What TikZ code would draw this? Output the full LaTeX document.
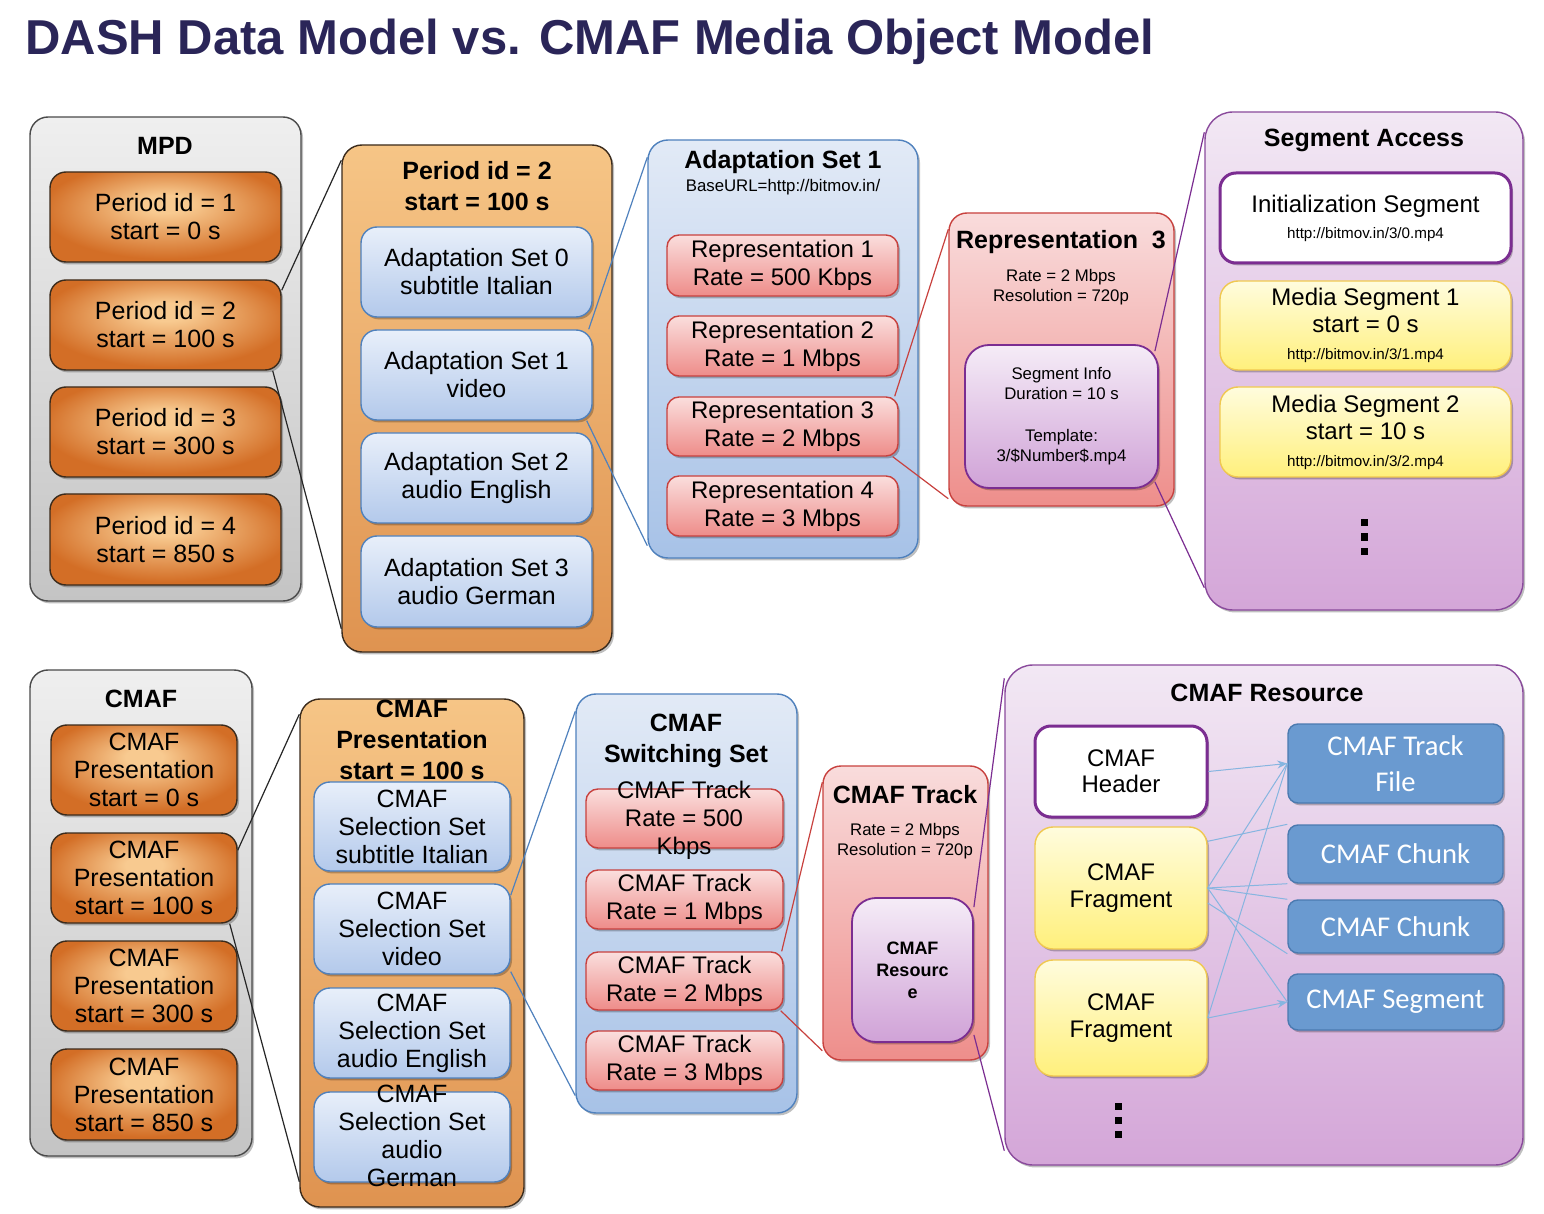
\documentclass[tikz,border=0pt]{standalone}
\usepackage{fontspec}
\setmainfont{Liberation Sans}
\newfontfamily\carlito{Carlito}
\usetikzlibrary{shadows,arrows.meta}

\definecolor{titlenavy}{HTML}{2A2558}
\definecolor{grayT}{HTML}{EFEFEF}
\definecolor{grayB}{HTML}{C4C4C4}
\definecolor{grayL}{HTML}{4A4A4A}
\definecolor{orIn}{HTML}{F8CA90}
\definecolor{orOut}{HTML}{D36E26}
\definecolor{orL}{HTML}{3B2B1C}
\definecolor{obT}{HTML}{F6C586}
\definecolor{obB}{HTML}{DF9350}
\definecolor{blT}{HTML}{E8EFFA}
\definecolor{blB}{HTML}{B3C9EB}
\definecolor{blL}{HTML}{4F81BD}
\definecolor{bbT}{HTML}{E2EAF6}
\definecolor{bbB}{HTML}{A7C2E7}
\definecolor{rdT}{HTML}{FADEDD}
\definecolor{rdB}{HTML}{EE8C89}
\definecolor{rdL}{HTML}{C8413E}
\definecolor{rbT}{HTML}{F9DCDC}
\definecolor{rbB}{HTML}{EE8E8B}
\definecolor{puT}{HTML}{F5ECF7}
\definecolor{puB}{HTML}{D0A2D7}
\definecolor{puL}{HTML}{7B2D91}
\definecolor{saT}{HTML}{F2E8F4}
\definecolor{saB}{HTML}{D4A6D8}
\definecolor{saL}{HTML}{8A4A9C}
\definecolor{yeT}{HTML}{FFFCDD}
\definecolor{yeB}{HTML}{FFF07C}
\definecolor{yeL}{HTML}{F0C850}
\definecolor{sbF}{HTML}{6A9AD0}
\definecolor{sbL}{HTML}{4B7AB0}
\definecolor{arB}{HTML}{86B5E0}

\pgfdeclareradialshading{pershade}{\pgfpoint{0bp}{8bp}}{color(0bp)=(orIn); color(5bp)=(orIn); color(27bp)=(orOut); color(50bp)=(orOut)}

\tikzset{
 shd/.style={drop shadow={shadow xshift=1pt, shadow yshift=-1.2pt, opacity=0.25, fill=black}},
 bxbase/.style={draw, inner sep=0pt, align=center, line width=0.7pt, shd},
 graybox/.style={bxbase, draw=grayL, rounded corners=9pt, top color=grayT, bottom color=grayB},
 orbox/.style={bxbase, draw=orL, rounded corners=8pt, shading=pershade, font=\fontsize{12.5}{14}\selectfont},
 obig/.style={bxbase, draw=orL, rounded corners=10pt, top color=obT, bottom color=obB},
 blbox/.style={bxbase, draw=blL, rounded corners=8pt, top color=blT, bottom color=blB, font=\fontsize{12.5}{14}\selectfont},
 bbig/.style={bxbase, draw=blL, rounded corners=10pt, top color=bbT, bottom color=bbB},
 rdbox/.style={bxbase, draw=rdL, rounded corners=6pt, top color=rdT, bottom color=rdB, font=\fontsize{12}{14}\selectfont},
 rbig/.style={bxbase, draw=rdL, rounded corners=9pt, top color=rbT, bottom color=rbB},
 pubox/.style={bxbase, draw=puL, line width=0.9pt, rounded corners=12pt, top color=puT, bottom color=puB},
 sabig/.style={bxbase, draw=saL, rounded corners=14pt, top color=saT, bottom color=saB},
 initbox/.style={bxbase, draw=puL, line width=1.5pt, fill=white, rounded corners=8pt, font=\fontsize{12}{13}\selectfont},
 yebox/.style={bxbase, draw=yeL, rounded corners=9pt, top color=yeT, bottom color=yeB, font=\fontsize{12}{13.5}\selectfont},
 sbbox/.style={bxbase, draw=sbL, fill=sbF, rounded corners=5pt, text=white, font=\carlito\fontsize{14.3}{18}\selectfont},
 ttl/.style={inner sep=0pt, align=center, font=\fontsize{12.5}{15.5}\selectfont\bfseries},
 sml/.style={inner sep=0pt, align=center, font=\fontsize{8.4}{10}\selectfont},
 smlbold/.style={inner sep=0pt, align=center, font=\fontsize{9}{11}\selectfont\bfseries},
 bodytxt/.style={inner sep=0pt, align=center, font=\fontsize{12.5}{14}\selectfont},
 dotsq/.style={fill=black, minimum size=3.5pt, inner sep=0pt},
 cblack/.style={draw=black!85, line width=0.6pt},
 cblue/.style={draw=blL, line width=0.6pt},
 cred/.style={draw=rdL, line width=0.6pt},
 cpurple/.style={draw=puL, line width=0.6pt},
 carr/.style={draw=arB, line width=0.5pt},
}

\newcommand\mkbox[7]{%
  \pgfmathsetmacro\bw{(#5-#3)*0.5}%
  \pgfmathsetmacro\bh{(#6-#4)*0.5}%
  \node[#1, minimum width=\bw pt, minimum height=\bh pt] (#2) at ({(#3+#5)/2},{(#4+#6)/2}) {#7};}
\newcommand\urlf{\fontsize{7.6}{9}\selectfont}

\begin{document}
\begin{tikzpicture}[x=0.5pt,y=-0.5pt]
\fill[white] (0,0) rectangle (1544,1214);
\useasboundingbox (0,0) rectangle (1544,1214);

\node[anchor=base west, inner sep=0pt, text=titlenavy, font=\fontsize{24.5}{28}\selectfont\bfseries] (title) at (25,55) {DASH Data Model vs. CMAF Media Object Model};

% ---------------- DASH ----------------
\mkbox{graybox}{mpd}{30}{117}{301}{601}{}
\node[ttl] (mpdT) at (165,146) {MPD};
\mkbox{orbox}{P1}{50}{172}{281}{262}{Period id = 1\\start = 0 s}
\mkbox{orbox}{P2}{50}{280}{281}{370}{Period id = 2\\start = 100 s}
\mkbox{orbox}{P3}{50}{387}{281}{477}{Period id = 3\\start = 300 s}
\mkbox{orbox}{P4}{50}{494}{281}{585}{Period id = 4\\start = 850 s}

\mkbox{obig}{PB}{342}{145}{612}{652}{}
\node[ttl] (PBT) at (477,186.5) {Period id = 2\\start = 100 s};
\mkbox{blbox}{AS0}{361}{227}{592}{317}{Adaptation Set 0\\subtitle Italian}
\mkbox{blbox}{AS1}{361}{330}{592}{420}{Adaptation Set 1\\video}
\mkbox{blbox}{AS2}{361}{433}{592}{523}{Adaptation Set 2\\audio English}
\mkbox{blbox}{AS3}{361}{536}{592}{627}{Adaptation Set 3\\audio German}

\mkbox{bbig}{ASB}{648}{140}{918}{558}{}
\node[ttl] (ASBT) at (783,162) {Adaptation Set 1};
\node[sml] (ASBU) at (783,187) {BaseURL=http://bitmov.in/};
\mkbox{rdbox}{R1}{667}{235}{898}{296}{Representation 1\\Rate = 500 Kbps}
\mkbox{rdbox}{R2}{667}{316}{898}{376}{Representation 2\\Rate = 1 Mbps}
\mkbox{rdbox}{R3}{667}{397}{898}{456}{Representation 3\\Rate = 2 Mbps}
\mkbox{rdbox}{R4}{667}{476}{898}{536}{Representation 4\\Rate = 3 Mbps}

\mkbox{rbig}{RB}{949}{213}{1174}{506}{}
\node[ttl] (RBT) at (1061,242) {Representation\ \ 3};
\node[sml] (RBI) at (1061,287) {Rate = 2 Mbps\\Resolution = 720p};
\mkbox{pubox,sml}{SI}{965}{345}{1158}{488}{Segment Info\\Duration = 10 s\\[11pt]Template:\\3/\$Number\$.mp4}

\mkbox{sabig}{SA}{1205}{112}{1523}{610}{}
\node[ttl] (SAT) at (1364,140) {Segment Access};
\mkbox{initbox}{IS}{1220}{173}{1511}{263}{Initialization Segment\\{\urlf http://bitmov.in/3/0.mp4}}
\mkbox{yebox}{MS1}{1220}{281}{1511}{370}{Media Segment 1\\start = 0 s\\{\urlf http://bitmov.in/3/1.mp4}}
\mkbox{yebox}{MS2}{1220}{387}{1511}{477}{Media Segment 2\\start = 10 s\\{\urlf http://bitmov.in/3/2.mp4}}
\node[dotsq] (sd1) at (1364,523) {};
\node[dotsq] (sd2) at (1364,537) {};
\node[dotsq] (sd3) at (1364,551) {};

\draw[cblack] ([yshift=-5.5pt]P2.north east) -- ([yshift=-8pt]PB.north west);
\draw[cblack] ([xshift=-4.5pt]P2.south east) -- ([yshift=12pt]PB.south west);
\draw[cblue] ([xshift=-2pt]AS1.north east) -- ([yshift=-9pt]ASB.north west);
\draw[cblue] ([xshift=-3pt]AS1.south east) -- ([yshift=6.5pt]ASB.south west);
\draw[cred] ([xshift=-2pt]R3.north east) -- ([yshift=-8.5pt]RB.north west);
\draw[cred] ([xshift=-3pt]R3.south east) -- ([yshift=4pt]RB.south west);
\draw[cpurple] ([xshift=-2pt,yshift=-3.5pt]SI.north east) -- ([yshift=-10.5pt]SA.north west);
\draw[cpurple] ([xshift=-2pt,yshift=3.5pt]SI.south east) -- ([yshift=11.5pt]SA.south west);

% ---------------- CMAF ----------------
\mkbox{graybox}{cmaf}{30}{670}{252}{1156}{}
\node[ttl] (cmafT) at (141,699) {CMAF};
\mkbox{orbox}{CP1}{51}{725}{237}{815}{CMAF\\Presentation\\start = 0 s}
\mkbox{orbox}{CP2}{51}{833}{237}{923}{CMAF\\Presentation\\start = 100 s}
\mkbox{orbox}{CP3}{51}{941}{237}{1031}{CMAF\\Presentation\\start = 300 s}
\mkbox{orbox}{CP4}{51}{1049}{237}{1140}{CMAF\\Presentation\\start = 850 s}

\mkbox{obig}{CPB}{300}{699}{524}{1207}{}
\mkbox{blbox}{SS1}{314}{782}{510}{871}{CMAF\\Selection Set\\subtitle Italian}
\mkbox{blbox}{SS2}{314}{884}{510}{974}{CMAF\\Selection Set\\video}
\mkbox{blbox}{SS3}{314}{988}{510}{1078}{CMAF\\Selection Set\\audio English}
\mkbox{blbox}{SS4}{314}{1092}{510}{1182}{}
\node[bodytxt] (SS4t) at (412,1136) {CMAF\\Selection Set\\audio\\German};
\node[ttl] (CPBT) at (412,740) {CMAF\\Presentation\\start = 100 s};

\mkbox{bbig}{SW}{576}{694}{797}{1113}{}
\node[ttl] (SWT) at (686,740.5) {CMAF\\Switching Set};
\mkbox{rdbox}{T1}{586}{789}{783}{848}{}
\node[bodytxt, font=\fontsize{12}{14}\selectfont] (T1t) at (684,820) {CMAF Track\\Rate = 500\\Kbps};
\mkbox{rdbox}{T2}{586}{870}{783}{929}{CMAF Track\\Rate = 1 Mbps}
\mkbox{rdbox}{T3}{586}{952}{783}{1010}{CMAF Track\\Rate = 2 Mbps}
\mkbox{rdbox}{T4}{586}{1031}{783}{1090}{CMAF Track\\Rate = 3 Mbps}

\mkbox{rbig}{TB}{823}{766}{988}{1060}{}
\node[ttl] (TBT) at (905,795) {CMAF Track};
\node[sml] (TBI) at (905,841) {Rate = 2 Mbps\\Resolution = 720p};
\mkbox{pubox,smlbold}{CR}{852}{898}{973}{1042}{CMAF\\Resourc\\e}

\mkbox{sabig}{RSB}{1005}{665}{1523}{1165}{}
\node[ttl] (RSBT) at (1267,693) {CMAF Resource};
\mkbox{initbox}{HD}{1035}{726}{1207}{817}{CMAF\\Header}
\mkbox{yebox}{F1}{1035}{827}{1207}{949}{CMAF\\Fragment}
\mkbox{yebox}{F2}{1035}{960}{1207}{1076}{CMAF\\Fragment}
\mkbox{sbbox}{TF}{1288}{724}{1503}{803}{CMAF Track\\File}
\mkbox{sbbox}{C1}{1288}{825}{1503}{883}{CMAF Chunk}
\mkbox{sbbox}{C2}{1288}{900}{1503}{953}{CMAF Chunk}
\mkbox{sbbox}{SG}{1288}{974}{1503}{1030}{CMAF Segment}
\node[dotsq] (rd1) at (1118,1106) {};
\node[dotsq] (rd2) at (1118,1120) {};
\node[dotsq] (rd3) at (1118,1134) {};

\draw[cblack] ([yshift=-9pt]CP2.north east) -- ([yshift=-8pt]CPB.north west);
\draw[cblack] ([xshift=-4pt]CP2.south east) -- ([yshift=13pt]CPB.south west);
\draw[cblue] ([yshift=-6pt]SS2.north east) -- ([yshift=-9pt]SW.north west);
\draw[cblue] ([yshift=1.5pt]SS2.south east) -- ([yshift=9pt]SW.south west);
\draw[cred] ([xshift=-1pt]T3.north east) -- ([yshift=-8.5pt]TB.north west);
\draw[cred] ([xshift=-1.5pt]T3.south east) -- ([yshift=5pt]TB.south west);
\draw[cpurple] ([yshift=-5pt]CR.north east) -- ([yshift=-7pt]RSB.north west);
\draw[cpurple] ([yshift=4pt]CR.south east) -- ([yshift=7.5pt]RSB.south west);

\draw[carr, -{Stealth[length=5pt,width=4pt]}] (HD.east) -- (TF.west);
\draw[carr] ([yshift=-7.5pt]F1.north east) -- (C1.north west);
\draw[carr] (F1.east) -- (TF.west);
\draw[carr] (F1.east) -- (C1.south west);
\draw[carr] (F1.east) -- (C2.north west);
\draw[carr] (F1.east) -- (SG.west);
\draw[carr] ([yshift=-7.5pt]F1.east) -- (C2.south west);
\draw[carr] (F2.east) -- (TF.west);
\draw[carr, -{Stealth[length=5pt,width=4pt]}] (F2.east) -- (SG.west);
\end{tikzpicture}
\end{document}
